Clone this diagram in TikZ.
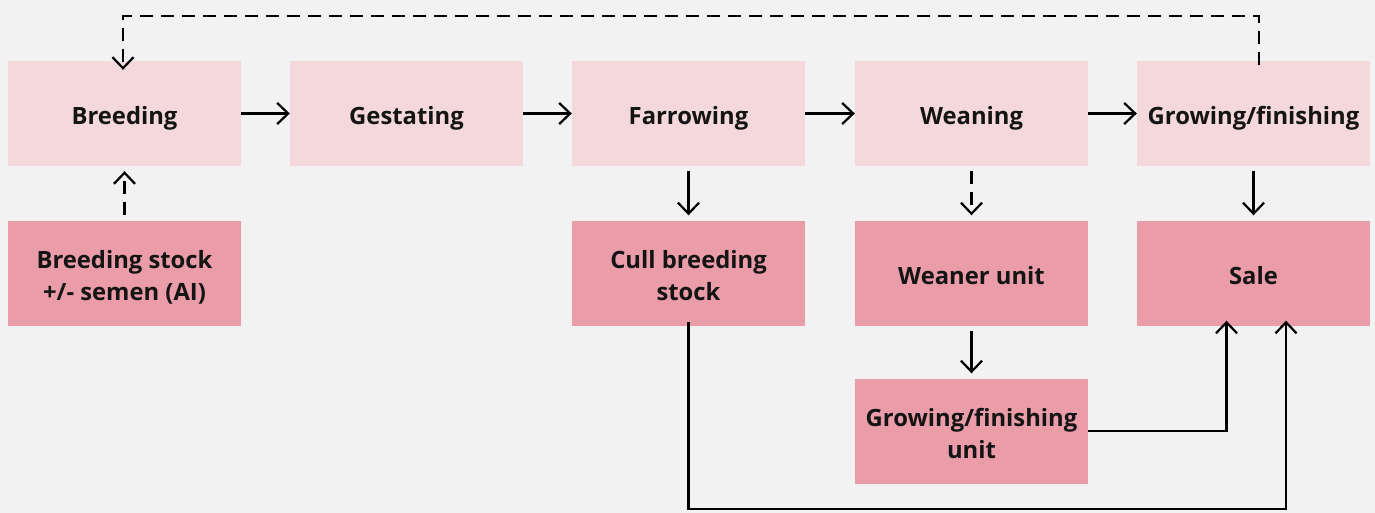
\documentclass[tikz,border=0pt]{standalone}
\usepackage{fontspec}
\setmainfont{Open Sans}
\usetikzlibrary{arrows.meta}
\definecolor{bg}{HTML}{F2F2F2}
\definecolor{stage}{HTML}{F5D8DC}
\definecolor{unit}{HTML}{EA9DA8}
\definecolor{ink}{HTML}{141414}
\tikzset{
  box/.style={minimum width=233pt, minimum height=105pt, inner sep=0pt,
    align=center, text=ink, font=\fontsize{23.8}{32}\selectfont\bfseries,
    % fixed line box so every label sits at the same height
    execute at begin node={\rule{0pt}{30pt}},
    execute at end node={\rule[-7pt]{0pt}{7pt}}},
  twoline/.style={execute at begin node={\rule{0pt}{62pt}}},
  stagebox/.style={box, fill=stage},
  unitbox/.style={box, fill=unit},
  flow/.style={draw=black, line width=2.2pt,
    -{Straight Barb[length=11pt,width=21pt,line width=2.2pt]}},
  gap/.style={shorten <=5pt, shorten >=5pt},
  dashflow/.style={flow, dash pattern=on 13pt off 8pt},
}
\begin{document}
\begin{tikzpicture}[x=1pt,y=-1pt]
  \fill[bg] (0,0) rectangle (1375,513);
  \useasboundingbox (0,0) rectangle (1375,513);

  % production stages
  \node[stagebox] (breed) at (124.5,113.5) {Breeding};
  \node[stagebox] (gest)  at (406.5,113.5) {Gestating};
  \node[stagebox] (farr)  at (688.5,113.5) {Farrowing};
  \node[stagebox] (wean)  at (971.5,113.5) {Weaning};
  \node[stagebox] (grow)  at (1253.5,113.5) {Growing/finishing};

  % inputs, outputs and units
  \node[unitbox,twoline] (stock) at (124.5,273) {Breeding stock\\+/- semen (AI)};
  \node[unitbox,twoline] (cull)  at (688.5,273) {Cull breeding\\stock};
  \node[unitbox] (wunit) at (971.5,273) {Weaner unit};
  \node[unitbox] (sale)  at (1253.5,273) {Sale};
  \node[unitbox,twoline] (gunit) at (971.5,431) {Growing/finishing\\unit};

  % main flow
  \draw[flow] (breed) -- (gest);
  \draw[flow] (gest) -- (farr);
  \draw[flow] (farr) -- (wean);
  \draw[flow] (wean) -- (grow);

  \draw[flow,gap] (farr) -- (cull);
  \draw[flow,gap] (grow) -- (sale);
  \draw[flow,gap] (wunit) -- (gunit);
  \draw[dashflow,gap] (wean) -- (wunit);
  \draw[dashflow,gap] (stock) -- (breed);

  % return of replacement stock
  \coordinate (rA) at ([xshift=5.5pt,yshift=-4pt]grow.north);
  \coordinate (rB) at ([xshift=-1.5pt,yshift=-9pt]breed.north);
  \draw[dashflow] (rA) |- (1259,16) -| (rB);

  % routes to sale
  \coordinate (s1) at ([xshift=-27pt,yshift=5pt]sale.south);
  \coordinate (s2) at ([xshift=32.5pt,yshift=5pt]sale.south);
  \draw[flow] (gunit.east) -| (s1);
  \draw[flow] ([yshift=4pt]cull.south) |- (1286,509) -- (s2);
\end{tikzpicture}
\end{document}
